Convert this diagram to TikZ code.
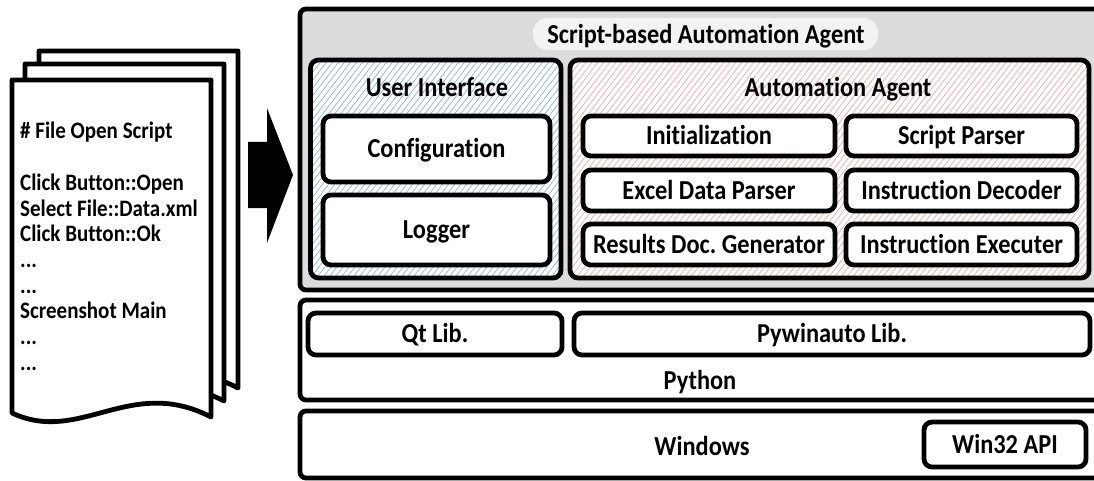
\documentclass[tikz,border=0pt]{standalone}
\usepackage{fontspec}
\setmainfont{Carlito}[FakeStretch=0.89, Ligatures=NoCommon]
\frenchspacing

\definecolor{panelgray}{RGB}{220,220,220}
\definecolor{pillgray}{RGB}{243,243,243}
\definecolor{uihatch}{RGB}{130,180,205}
\definecolor{aahatch}{RGB}{236,165,165}

\newcommand\labfont{\bfseries\fontsize{27.4}{30}\selectfont}
\newcommand\docfont{\bfseries\fontsize{23.6}{26}\selectfont}

\tikzset{
  span/.style n args={4}{at={({(#1+#3)/2},{(#2+#4)/2})},
      minimum width={(#3-#1)*1pt}, minimum height={(#4-#2)*1pt}},
  frame/.style={draw, line width=4.8pt, rounded corners=6pt, inner sep=0pt, outer sep=0pt},
  layer/.style={frame, fill=white},
  modbox/.style={frame, fill=white, rounded corners=8pt, font=\labfont,
                 text height=17.6pt, text depth=0pt},
  group/.style={frame, fill=white, rounded corners=8pt},
  hatched/.style={path picture={
      \foreach \k in {0,...,130}{
        \draw[#1, line width=0.65pt]
          ([xshift=\k*6pt-240pt]path picture bounding box.south west) -- ++(240pt,312pt);
      }}},
  label/.style={font=\labfont, inner sep=0pt, text height=17.6pt, text depth=0pt},
  docline/.style={font=\docfont, inner sep=0pt, anchor=base west},
  page/.style={draw, fill=white, line width=4.8pt, line join=round},
}

\begin{document}
\begin{tikzpicture}[x=1pt,y=-1pt]
\useasboundingbox (0,0) rectangle (1094,481);
\clip (0,0) rectangle (1094,481);

% stacked script pages, back to front
\foreach \dx/\dy in {27/-29, 13/-16, 0/0}{
  \filldraw[page, shift={(\dx,\dy)}]
    (12,80) -- (211,80) -- (211,417)
    .. controls (130,375) and (80,445) .. (12,413) -- cycle;
}

% script text
\node[docline] (d1) at (20,139) {\# File Open Script};
\node[docline] (d2) at (20,190) {Click Button::Open};
\node[docline] (d3) at (20,216) {Select File::Data.xml};
\node[docline] (d4) at (20,241) {Click Button::Ok};
\node[docline] (d5) at (20,267) {...};
\node[docline] (d6) at (20,293) {...};
\node[docline] (d7) at (20,318) {Screenshot Main};
\node[docline] (d8) at (20,344) {...};
\node[docline] (d9) at (20,370) {...};

% block arrow
\fill (248,142) -- (267,142) -- (267,108) -- (293,175) -- (267,243)
      -- (267,208) -- (248,208) -- cycle;

% layers
\node[frame, fill=panelgray, span={300}{9}{1130}{290}] (agent) {};
\node[layer, span={300}{300}{1130}{400}] (python) {};
\node[layer, span={300}{411}{1130}{478}] (windows) {};

% title pill
\node[fill=pillgray, rounded corners=15pt, inner sep=0pt, outer sep=0pt,
      span={533}{18}{878}{50}] (pill) {};
\node[label] (title) at (706,34.5) {Script-based Automation Agent};

% user interface group
\node[group, hatched=uihatch, span={310.5}{60}{561}{278}] (ui) {};
\node[label] (uiT) at (437,88) {User Interface};
\node[modbox, span={323}{116}{550}{182}] (config) {Configuration};
\node[modbox, span={323}{195}{550}{265}] (logger) {Logger};

% automation agent group
\node[group, hatched=aahatch, span={570}{60}{1089}{278}] (aa) {};
\node[label] (aaT) at (838,88) {Automation Agent};
\node[modbox, span={583}{116}{835}{156}] (init) {Initialization};
\node[modbox, span={846}{116}{1077}{156}] (sparser) {Script Parser};
\node[modbox, span={583}{170}{835}{211}] (excel) {Excel Data Parser};
\node[modbox, span={846}{170}{1077}{211}] (decoder) {Instruction Decoder};
\node[modbox, span={583}{224}{835}{265}] (results) {Results Doc. Generator};
\node[modbox, span={846}{224}{1077}{265}] (executer) {Instruction Executer};

% python layer
\node[modbox, span={308}{313}{562}{355}] (qt) {Qt Lib.};
\node[modbox, span={574}{313}{1090}{355}] (pywin) {Pywinauto Lib.};
\node[label] (pyT) at (700,380.5) {Python};

% windows layer
\node[label] (winT) at (702,447) {Windows};
\node[modbox, span={924}{422}{1086}{467}] (win32) {Win32 API};
\end{tikzpicture}
\end{document}
